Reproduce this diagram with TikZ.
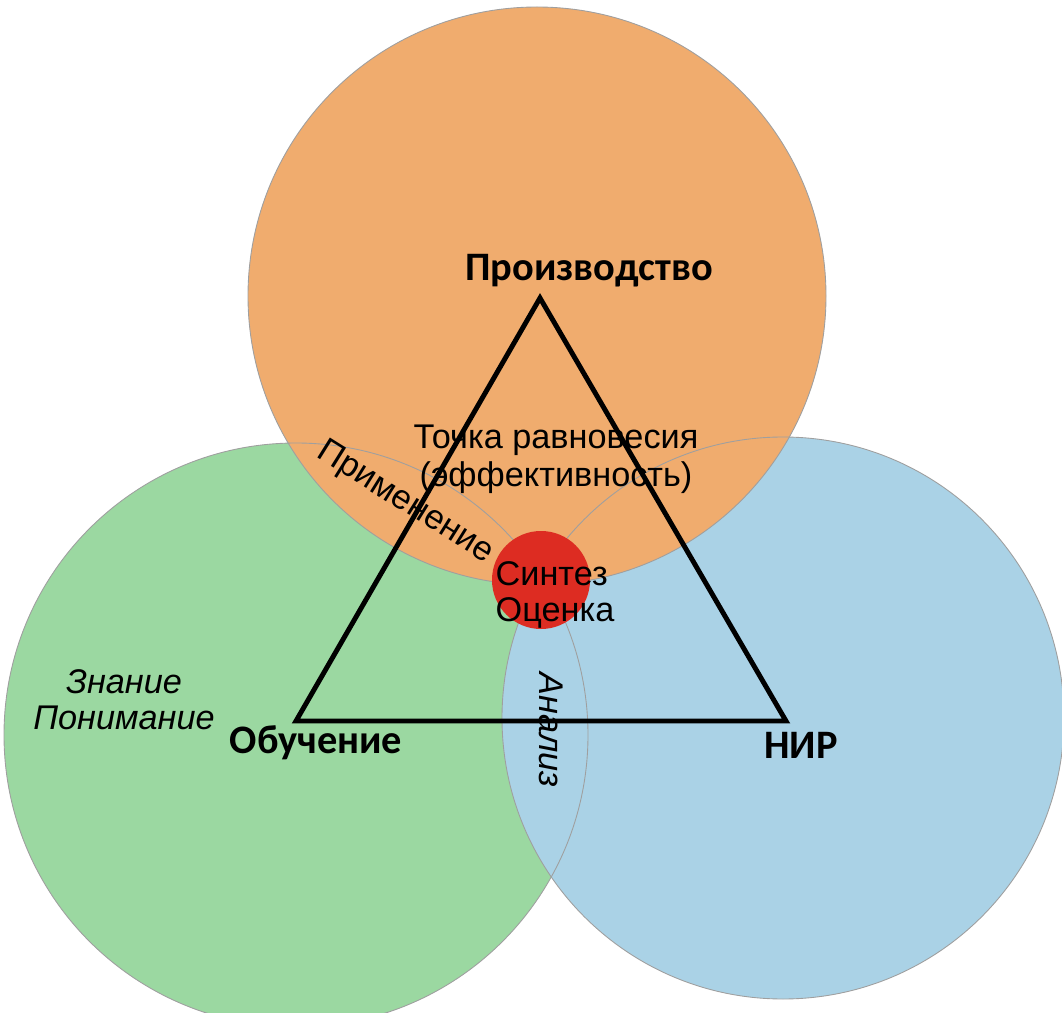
\documentclass[tikz,border=0pt]{standalone}
\usepackage{fontspec}
\setmainfont{Liberation Sans}
\newfontfamily\calibri{Carlito}
\definecolor{orangefill}{RGB}{240,172,110}
\definecolor{greenfill}{RGB}{155,216,161}
\definecolor{bluefill}{RGB}{170,210,230}
\definecolor{redfill}{RGB}{221,44,34}

\begin{document}
\begin{tikzpicture}[x=0.02cm, y=-0.02cm,
    ring/.style={draw=gray!75, line width=0.5pt},
    vertex/.style={font=\calibri\bfseries\fontsize{23}{25}\selectfont, inner sep=0pt},
    note/.style={font=\fontsize{19.5}{21.5}\selectfont, align=center, inner sep=0pt},
    slant/.style={font=\itshape\fontsize{19.5}{20.5}\selectfont, align=center, inner sep=0pt}]
    \useasboundingbox (0,0) rectangle (1062,1013);
    % circles
    \coordinate (cedu)  at (296,735);
    \coordinate (cnir)  at (783,718);
    \coordinate (cprod) at (537,296);
    \fill [greenfill]  (cedu)  circle (292);
    \fill [bluefill]   (cnir)  circle (281);
    \fill [orangefill] (cprod) circle (289);
    \draw [ring]       (cedu)  circle (292);
    \draw [ring]       (cnir)  circle (281);
    \draw [ring]       (cprod) circle (289);
    % triangle
    \coordinate (prod) at (540,298);
    \coordinate (edu)  at (296,721);
    \coordinate (nir)  at (786,721);
    \draw [line width=2.8pt, line join=miter] (prod) -- (edu) -- (nir) -- cycle;
    % centre
    \fill [redfill]    (541,580) circle (49);
    % labels
    \node [vertex] (prodlbl) at (589,271) {Производство};
    \node [vertex] (edulbl)  at (316,743) {Обучение};
    \node [vertex] (nirlbl)  at (801,745) {НИР};
    \node [note] (balance) at (556,459) {Точка равновесия\\(эффективность)};
    \node [note, rotate=-32] (apply) at (405,503) {Применение};
    \node [note, align=left, font=\fontsize{19.5}{20}\selectfont] (synth) at (555,595) {Синтез\\Оценка};
    \node [slant] (know) at (124,700) {Знание\\Понимание};
    \node [slant, rotate=-90] (analysis) at (551,730) {Анализ};
\end{tikzpicture}
\end{document}
